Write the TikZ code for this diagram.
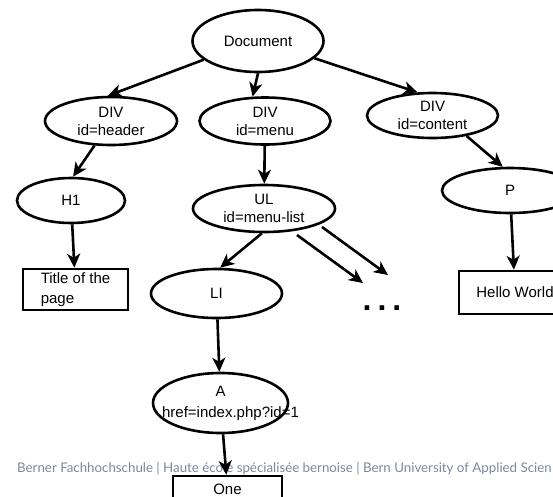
\documentclass[tikz,border=0pt]{standalone}
\usepackage{fontspec}
\setmainfont{Liberation Sans}
\newfontfamily\bfhfont{Lato}
\usetikzlibrary{arrows.meta,calc,shapes.geometric}
\definecolor{bfhgris}{RGB}{122,137,158}

\begin{document}
\begin{tikzpicture}[
  x=1pt, y=-1pt,
  >={Stealth[length=14pt,width=13pt,inset=4pt]},
  every node/.style={font=\fontsize{15}{18}\selectfont, inner sep=0pt},
  balise/.style={ellipse, draw, line width=2.6pt, align=center},
  boite/.style={rectangle, draw, line width=2.6pt, align=left},
  fleche/.style={line width=2.6pt, ->},
  pied/.style={font=\bfhfont\fontsize{13.3}{15}\selectfont, text=bfhgris, anchor=west},
]
  \useasboundingbox (0,0) rectangle (553,496);

  % Racine
  \node[balise, minimum width=131pt, minimum height=62pt] (doc) at (258,41) {Document};

  % Niveau 1
  \node[balise, minimum width=132pt, minimum height=48pt] (divh) at (111,121) {DIV\\id=header};
  \node[balise, minimum width=131pt, minimum height=47pt] (divm) at (265,121) {DIV\\id=menu};
  \node[balise, minimum width=131pt, minimum height=45pt] (divc) at (432.5,115.5) {DIV\\id=content};

  % Niveau 2
  \node[balise, minimum width=108pt, minimum height=45pt] (h1) at (71,200.5) {H1};
  \node[balise, minimum width=142pt, minimum height=47pt] (ul) at (264,208.5) {UL\\id=menu-list};
  \node[balise, minimum width=136pt, minimum height=45pt] (p)  at (510,190.5) {P};

  % Niveau 3
  \node[boite, minimum width=105pt, minimum height=41pt] (title) at (75.5,289.5) {Title of the\\[2pt]page};
  \node[balise, minimum width=131pt, minimum height=49pt] (li) at (216.5,293.5) {LI};
  \node[font=\fontsize{32}{32}\bfseries\selectfont] (more) at (382,308) {.\hspace{6pt}.\hspace{6pt}.};
  \node[boite, minimum width=112pt, minimum height=43pt] (hello) at (515,292.5) {Hello World};

  % Niveau 4
  \node[balise, minimum width=135pt, minimum height=60pt] (a) at (220.5,403)
    {A\\[3pt]\makebox[0pt]{\hspace{20pt}href=index.php?id=1}};

  % Pied de page
  \node[pied] (bfh) at (17,469)
    {Berner Fachhochschule | Haute école spécialisée bernoise | Bern University of Applied Scien};

  \node[boite, minimum width=109pt, minimum height=26pt] (one) at (227.5,489) {One};

  % Extremites libres
  \coordinate (ul-a)   at ($(ul.center)+(33,26.5)$);
  \coordinate (ul-b)   at ($(ul.center)+(58,18.5)$);
  \coordinate (more-a) at ($(more.center)+(-19,-25)$);
  \coordinate (more-b) at ($(more.center)+(6,-33)$);

  % Fleches
  \draw[fleche] (doc.199) -- (divh.97);
  \draw[fleche] (doc.270) -- (divm.117);
  \draw[fleche] (doc.343) -- (divc.123);
  \draw[fleche] (divh.236) -- (h1.85);
  \draw[fleche] (divm) -- (ul);
  \draw[fleche] (divc.329) -- (p.107);
  \draw[fleche] (h1) -- (title);
  \draw[fleche] (ul.265) -- (li.82);
  \draw[fleche] (ul-a) -- (more-a);
  \draw[fleche] (ul-b) -- (more-b);
  \draw[fleche] (p) -- (hello);
  \draw[fleche] (li) -- (a);
  \draw[fleche] (a) -- (one);
\end{tikzpicture}
\end{document}
